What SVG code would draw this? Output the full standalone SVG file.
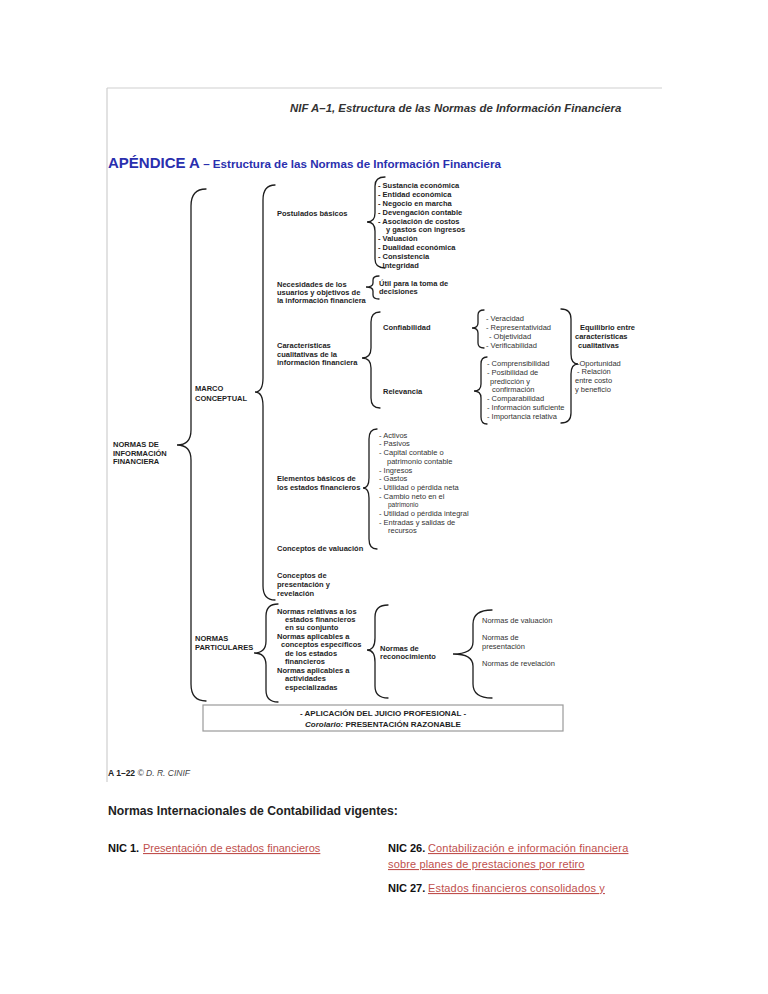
<svg xmlns="http://www.w3.org/2000/svg" width="768" height="994" viewBox="0 0 768 994">
<style>
text{font-family:"Liberation Sans",Arial,sans-serif}
.b{font-size:7.5px;font-weight:bold;fill:#1e1e1e}
.r{font-size:7.5px;fill:#333}
.br{fill:none;stroke:#1e1e1e;stroke-width:1.3;stroke-linecap:round}
.lk{font-size:11px;fill:#c0504d;text-decoration:underline}
.nic{font-size:11px;font-weight:bold;fill:#111}
</style>
<rect width="768" height="994" fill="#fff"/>
<g id="frame" stroke="#cfcfcf" stroke-width="1.2">
<line x1="107" y1="88" x2="662" y2="88"/>
<line x1="107" y1="88" x2="107" y2="782"/>
</g>
<g id="titles">
<text x="290" y="112" font-size="11.4" font-weight="bold" font-style="italic" fill="#333">NIF A–1, Estructura de las Normas de Información Financiera</text>
<text x="108" y="168" font-weight="bold" fill="#2a2fae"><tspan font-size="15">APÉNDICE A</tspan><tspan font-size="11.6"> – Estructura de las Normas de Información Financiera</tspan></text>
</g>
<g id="connectors">
<path class="br" d="M206,189 Q191,189 191,206 L191,430 Q191,445 177,445 Q191,445 191,460 L191,684 Q191,701 206,701"/>
<path class="br" d="M275,185 Q263,185 263,200 L263,378 Q263,392 255,392 Q263,392 263,406 L263,586 Q263,600 275,600"/>
<path class="br" d="M278,604 Q266,604 266,616 L266,641 Q266,653 254,653 Q266,653 266,665 L266,690 Q266,702 278,702"/>
<path class="br" d="M385,177 Q375,177 375,186 L375,213 Q375,222 367,222 Q375,222 375,231 L375,259 Q375,268 385,268"/>
<path class="br" d="M379,276 Q373,276 373,280 L373,283 Q373,287 366,287 Q373,287 373,291 L373,295 Q373,299 379,299"/>
<path class="br" d="M380,312 Q371,312 371,322 L371,348 Q371,358 362,358 Q371,358 371,368 L371,398 Q371,408 380,408"/>
<path class="br" d="M484,310 Q478,310 478,315 L478,323 Q478,328 472,328 Q478,328 478,333 L478,343 Q478,348 484,348"/>
<path class="br" d="M487,357 Q481,357 481,364 L481,384 Q481,391 474,391 Q481,391 481,398 L481,417 Q481,424 487,424"/>
<path class="br" d="M561,309 Q571,309 571,319 L571,354 Q571,364 578,364 Q571,364 571,374 L571,413 Q571,423 561,423"/>
<path class="br" d="M377,429 Q369,429 369,439 L369,478 Q369,488 363,488 Q369,488 369,498 L369,539 Q369,549 377,549"/>
<path class="br" d="M388,605 Q375,605 375,617 L375,638 Q375,650 367,650 Q375,650 375,662 L375,686 Q375,698 388,698"/>
<path class="br" d="M492,610 Q473,610 473,624 L473,642 Q473,654 453,654 Q473,654 473,666 L473,684 Q473,698 492,698"/>
</g>
<g id="n-nif">
<text class="b" x="113" y="447">NORMAS DE</text>
<text class="b" x="113" y="456">INFORMACIÓN</text>
<text class="b" x="113" y="464">FINANCIERA</text>
</g>
<g id="n-marco">
<text class="b" x="195" y="391">MARCO</text>
<text class="b" x="195" y="401">CONCEPTUAL</text>
</g>
<g id="n-particulares">
<text class="b" x="195" y="641">NORMAS</text>
<text class="b" x="195" y="650">PARTICULARES</text>
</g>
<g id="n-postulados">
<text class="b" x="277" y="216">Postulados básicos</text>
</g>
<g id="n-postulados-list" class="b">
<text x="378" y="188">- Sustancia económica</text>
<text x="378" y="197">- Entidad económica</text>
<text x="378" y="205.5">- Negocio en marcha</text>
<text x="378" y="214.5">- Devengación contable</text>
<text x="378" y="223.5">- Asociación de costos</text>
<text x="386" y="232">y gastos con ingresos</text>
<text x="378" y="241">- Valuación</text>
<text x="378" y="250">- Dualidad económica</text>
<text x="378" y="259">- Consistencia</text>
<text x="378" y="268">- Integridad</text>
</g>
<g id="n-necesidades">
<text class="b" x="277" y="287">Necesidades de los</text>
<text class="b" x="277" y="295">usuarios y objetivos de</text>
<text class="b" x="277" y="303">la información financiera</text>
</g>
<g id="n-util">
<text class="b" x="379" y="286">Útil para la toma de</text>
<text class="b" x="379" y="294">decisiones</text>
</g>
<g id="n-caracteristicas">
<text class="b" x="277" y="348">Características</text>
<text class="b" x="277" y="357">cualitativas de la</text>
<text class="b" x="277" y="365">información financiera</text>
</g>
<g id="n-confiabilidad"><text class="b" x="383" y="330">Confiabilidad</text></g>
<g id="n-relevancia"><text class="b" x="383" y="394">Relevancia</text></g>
<g id="n-conf-list" class="r">
<text x="486" y="321">- Veracidad</text>
<text x="486" y="330">- Representatividad</text>
<text x="489" y="339">- Objetividad</text>
<text x="486" y="348">- Verificabilidad</text>
</g>
<g id="n-relev-list" class="r">
<text x="487" y="366">- Comprensibilidad</text>
<text x="487" y="375">- Posibilidad de</text>
<text x="490" y="384">predicción y</text>
<text x="492" y="392">confirmación</text>
<text x="487" y="401">- Comparabilidad</text>
<text x="487" y="410">- Información suficiente</text>
<text x="487" y="419">- Importancia relativa</text>
</g>
<g id="n-equilibrio">
<text class="b" x="580" y="330">Equilibrio entre</text>
<text class="b" x="575" y="339">características</text>
<text class="b" x="578" y="348">cualitativas</text>
<text class="r" x="577" y="366">-Oportunidad</text>
<text class="r" x="577" y="374">- Relación</text>
<text class="r" x="575" y="383">entre costo</text>
<text class="r" x="575" y="392">y beneficio</text>
</g>
<g id="n-elementos">
<text class="b" x="277" y="481">Elementos básicos de</text>
<text class="b" x="277" y="490">los estados financieros</text>
</g>
<g id="n-elementos-list" class="r">
<text x="379" y="438">- Activos</text>
<text x="379" y="446">- Pasivos</text>
<text x="379" y="455">- Capital contable o</text>
<text x="387" y="464">patrimonio contable</text>
<text x="379" y="473">- Ingresos</text>
<text x="379" y="481">- Gastos</text>
<text x="379" y="490">- Utilidad o pérdida neta</text>
<text x="379" y="499">- Cambio neto en el</text>
<text x="388" y="507" font-size="6.5">patrimonio</text>
<text x="379" y="516">- Utilidad o pérdida integral</text>
<text x="379" y="525">- Entradas y salidas de</text>
<text x="388" y="533">recursos</text>
</g>
<g id="n-valuacion"><text class="b" x="277" y="551">Conceptos de valuación</text></g>
<g id="n-presentacion">
<text class="b" x="277" y="578">Conceptos de</text>
<text class="b" x="277" y="587">presentación y</text>
<text class="b" x="277" y="596">revelación</text>
</g>
<g id="n-normas-list" class="b">
<text x="277" y="614">Normas relativas a los</text>
<text x="285" y="622">estados financieros</text>
<text x="285" y="630">en su conjunto</text>
<text x="277" y="639">Normas aplicables a</text>
<text x="281" y="647">conceptos específicos</text>
<text x="285" y="656">de los estados</text>
<text x="285" y="664">financieros</text>
<text x="277" y="673">Normas aplicables a</text>
<text x="285" y="681">actividades</text>
<text x="285" y="690">especializadas</text>
</g>
<g id="n-reconocimiento">
<text class="b" x="380" y="651">Normas de</text>
<text class="b" x="380" y="659">reconocimiento</text>
</g>
<g id="n-final-list" class="r">
<text x="482" y="623">Normas de valuación</text>
<text x="482" y="640">Normas de</text>
<text x="482" y="649">presentación</text>
<text x="482" y="666">Normas de revelación</text>
</g>
<g id="n-juicio">
<rect x="203" y="705" width="360" height="26" fill="#fff" stroke="#9a9a9a" stroke-width="1.2"/>
<text x="383" y="715.5" text-anchor="middle" font-size="8" font-weight="bold" fill="#1e1e1e">- APLICACIÓN DEL JUICIO PROFESIONAL -</text>
<text x="383" y="726.5" text-anchor="middle" font-size="8" font-weight="bold" fill="#1e1e1e"><tspan font-style="italic">Corolario:</tspan> PRESENTACIÓN RAZONABLE</text>
</g>
<g id="footer">
<text x="108" y="776" font-size="8.5" fill="#444"><tspan font-weight="bold" fill="#222">A 1–22</tspan><tspan font-style="italic"> © D. R. CINIF</tspan></text>
</g>
<g id="nic">
<text x="108" y="815" font-size="12.2" font-weight="bold" fill="#222">Normas Internacionales de Contabilidad vigentes:</text>
<text class="nic" x="108" y="852">NIC 1.</text>
<text class="lk" x="143" y="852">Presentación de estados financieros</text>
<text class="nic" x="388" y="852">NIC 26.</text>
<text class="lk" x="428" y="852" letter-spacing="0.15">Contabilización e información financiera</text>
<text class="lk" x="388" y="868" letter-spacing="0.15">sobre planes de prestaciones por retiro</text>
<text class="nic" x="388" y="892">NIC 27.</text>
<text class="lk" x="428" y="892" letter-spacing="0.15">Estados financieros consolidados y</text>
</g>
</svg>
